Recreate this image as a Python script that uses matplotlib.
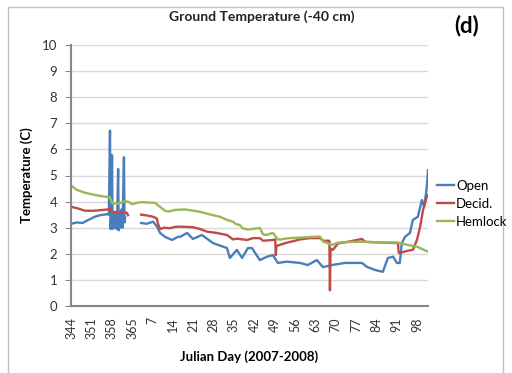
import numpy as np
import matplotlib
matplotlib.use('Agg')
import matplotlib.pyplot as plt
from matplotlib.patches import Rectangle

plt.rcParams['font.family'] = ['Lato', 'DejaVu Sans']

# day offsets from Julian day 344 (2007), values in deg C
nan = np.nan
open_days = [0, 2, 4, 4.8, 6, 8.2, 10, 12.7, 13.0, 13.4, 13.6, 13.9, 14.1, 14.3, 14.7, 15.0, 15.3,
             15.6, 15.9, 16.2, 16.4, 16.7, 17.0, 17.4, 17.7, 18.2, 18.4, 18.6, 21,
             24.1, 26, 28.2, 29.6, 30.6, 32.3, 34.7, 36.8, 37.5, 39.9, 41.9, 45, 48.8, 53.6,
             54.6, 57, 58.8, 60.8, 62.2, 64.9, 67.4, 69.4, 71.1, 74.2, 78.7, 81.4, 84.5, 86.6,
             89.7, 94.2, 100, 101.7, 104.5, 107.2, 108.9, 110.7, 112, 113, 113.7, 114.8, 116.5,
             117.5, 119.2, 120.6, 121.4, 122.3, 122.7]
open_temp = [3.15, 3.2, 3.18, 3.23, 3.3, 3.42, 3.48, 3.52, 3.5, 6.72, 2.95, 3.7, 5.78, 2.95, 3.6, 3.0, 3.55,
             2.95, 3.5, 5.25, 2.9, 3.6, 3.0, 3.7, 3.0, 5.7, 3.2, 3.4, nan,
             3.18, 3.15, 3.23, 3.04, 2.8, 2.65, 2.53, 2.65, 2.65, 2.8, 2.57, 2.72, 2.41, 2.22,
             1.84, 2.15, 1.84, 2.22, 2.22, 1.76, 1.89, 1.95, 1.65, 1.7, 1.65, 1.57, 1.76, 1.49,
             1.57, 1.65, 1.65, 1.5, 1.38, 1.31, 1.84, 1.89, 1.65, 1.65, 2.41, 2.65, 2.8,
             3.3, 3.42, 4.06, 3.8, 4.57, 5.2]

decid_days = [0, 2, 4.8, 8, 12.7, 13.5, 14.1, 17, 19.2, 19.6, 21,
              24.1, 26, 28.2, 29.5, 29.9, 30.6, 32, 34, 35.7, 37.5, 41.9, 44.3, 46.7, 50, 53.6,
              55.7, 57, 60.5, 62.5, 64.9, 66, 69.4, 70.2, 70.4, 70.6, 72, 74, 77, 78.7, 82, 85.6,
              86.6, 88.8, 89, 89.2, 90, 91.8, 95.2, 100, 101, 105, 112.4, 112.6, 113, 115.8,
              117.5, 118.9, 120, 121, 122.3, 122.7]
decid_temp = [3.8, 3.75, 3.65, 3.65, 3.7, 3.72, 3.6, 3.6, 3.57, 3.48, nan,
              3.5, 3.47, 3.42, 3.35, 3.15, 2.95, 3.0, 2.98, 3.03, 3.04, 3.02, 2.95, 2.85, 2.8, 2.72,
              2.55, 2.58, 2.53, 2.6, 2.6, 2.5, 2.53, 2.55, 1.95, 2.3, 2.35, 2.42, 2.5, 2.55, 2.6, 2.6,
              2.5, 2.5, 0.6, 2.2, 2.15, 2.4, 2.46, 2.57, 2.46, 2.44, 2.41, 2.05, 2.03, 2.12,
              2.15, 2.53, 3.04, 3.68, 4.19, 4.25]

hemlock_days = [0, 2, 4.8, 9.3, 13.4, 14.2, 16, 18.6, 20, 21, 22.5, 24.4, 28.9, 30, 32.3, 33.5,
                35.7, 39.2, 44.3, 48, 51.2, 53.6, 55.7, 56.5, 58, 59.1, 61, 64.9, 66, 67, 69.4,
                71.1, 72, 75, 78.7, 83, 85.6, 86.6, 89.7, 91.8, 95, 100, 105, 112.4, 115.8,
                119.2, 122.7]
hemlock_temp = [4.62, 4.45, 4.34, 4.23, 4.16, 3.93, 3.92, 4.02, 3.98, 3.9, 3.95, 3.98, 3.95, 3.85,
                3.65, 3.62, 3.68, 3.7, 3.61, 3.5, 3.42, 3.3, 3.23, 3.15, 3.1, 2.97, 2.93, 2.99,
                2.75, 2.72, 2.8, 2.55, 2.55, 2.6, 2.62, 2.65, 2.66, 2.47, 2.34, 2.43, 2.45, 2.46,
                2.44, 2.43, 2.34, 2.26, 2.08]

tick_labels = ['344', '351', '358', '365', '7', '14', '21', '28', '35', '42', '49', '56',
               '63', '70', '77', '84', '91', '98']

fig = plt.figure(figsize=(5.12, 3.73), dpi=100)
ax = fig.add_axes([71/512, 1 - 306/373, (428 - 71)/512, (306 - 45)/373])

ax.plot(open_days, open_temp, color='#4A7EBB', lw=1.7, label='Open')
ax.plot(decid_days, decid_temp, color='#BE4B48', lw=1.7, label='Decid.')
ax.plot(hemlock_days, hemlock_temp, color='#98B954', lw=1.7, label='Hemlock')

ax.set_xlim(0, 122.7)
ax.set_ylim(0, 10)
ax.set_yticks(range(0, 11))
ax.set_xticks(np.arange(len(tick_labels)) * 7)
ax.set_xticklabels(tick_labels, rotation=90)
ax.tick_params(axis='x', length=0, labelsize=9, colors='#333333', pad=8)
ax.tick_params(axis='y', length=4, labelsize=9.5, colors='#333333', direction='out', pad=6)
ax.tick_params(axis='y', color='#868686')
ax.grid(axis='y', color='#d9d9d9', lw=1)
ax.set_axisbelow(True)
for s in ['top', 'right']:
    ax.spines[s].set_visible(False)
for s in ['left', 'bottom']:
    ax.spines[s].set_color('#868686')
    ax.spines[s].set_linewidth(1.5)

ax.set_ylabel('Temperature (C)', fontsize=9.5, fontweight='bold', labelpad=6)
ax.set_xlabel('Julian Day (2007-2008)', fontsize=9.5, fontweight='bold', labelpad=8)
fig.text(262/512, 1 - 17/373, 'Ground Temperature (-40 cm)', ha='center', va='center',
         fontsize=10, fontweight='bold', color='#222222')
fig.text(467/512, 1 - 26/373, '(d)', ha='center', va='center', fontsize=16, fontweight='bold')

fig.legend(loc='center left', bbox_to_anchor=(437/512, 1 - 204/373), frameon=False,
           fontsize=9.5, handlelength=1.3, handletextpad=0.15, labelspacing=0.45,
           borderaxespad=0, borderpad=0)

fig.patches.append(Rectangle((8/512, -0.05), 495/512, 1 - 7/373 + 0.05,
                             transform=fig.transFigure, fill=False, edgecolor='#bfbfbf', lw=1))

fig.savefig('out.png', dpi=100)
